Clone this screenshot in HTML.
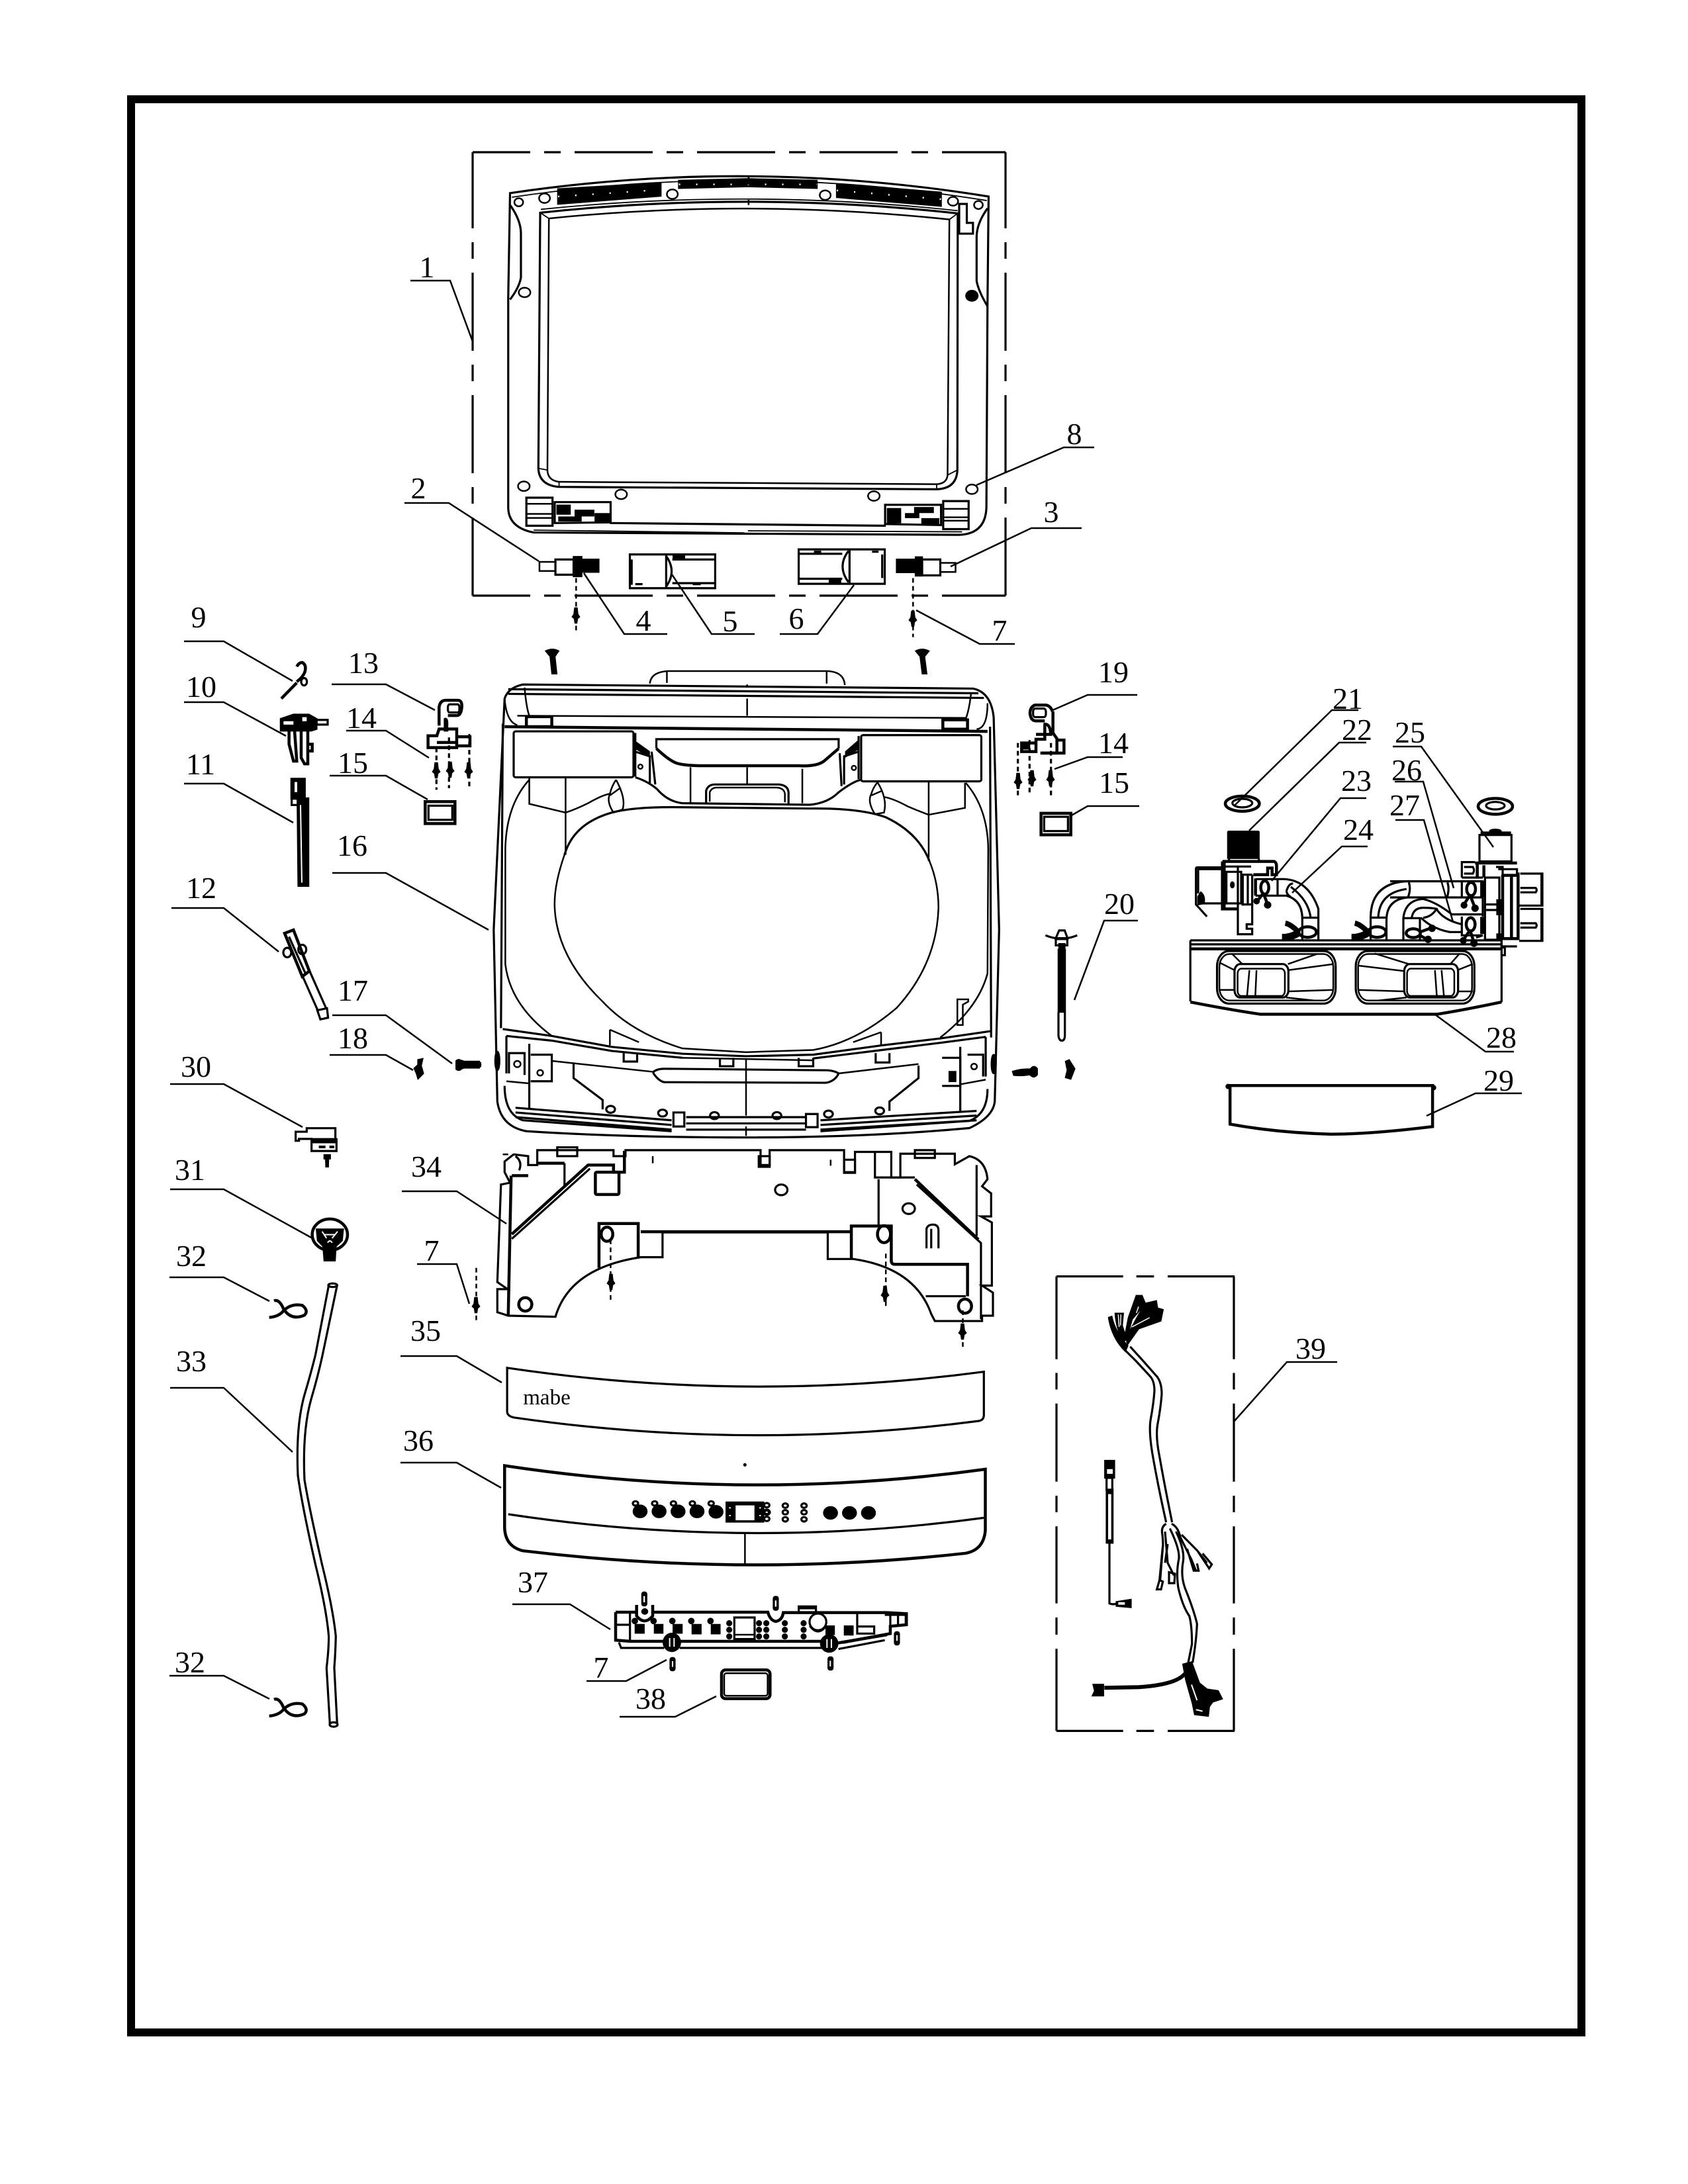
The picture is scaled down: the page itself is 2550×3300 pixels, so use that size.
<!DOCTYPE html>
<html><head><meta charset="utf-8"><style>
html,body{margin:0;padding:0;background:#fff}
svg{display:block}
svg path,svg rect,svg ellipse,svg circle{vector-effect:non-scaling-stroke;fill:none;stroke:#000;stroke-width:2.5}
svg .k{fill:#000}
svg .w{fill:#fff}
svg .b{stroke-width:4.5}
svg .m{stroke-width:3.2}
svg .t{stroke-width:1.8}
svg .d{stroke-dasharray:7 5}
text{font-family:"Liberation Serif","Noto Serif CJK SC",serif;font-size:46px;text-anchor:middle;fill:#000;stroke:none}
</style></head><body>
<svg xmlns="http://www.w3.org/2000/svg" width="2550" height="3300" viewBox="0 0 2550 3300">
<defs>
<path id="s" class="k" d="M-1.5 -11H1.5L2.5 -2L5 2L2 4.5L1 11H-1L-2 4.5L-5 2L-2.5 -2Z"/>
</defs>
<rect x="198" y="150" width="2191" height="2921" style="stroke-width:12"/>

<path class="m" style="stroke-dasharray:118 21 25 21;stroke-dashoffset:31" d="M714 230H1519"/>
<path class="m" style="stroke-dasharray:118 21 25 21;stroke-dashoffset:31" d="M714 900H1519"/>
<path class="m" style="stroke-dasharray:118 21 25 21;stroke-dashoffset:3" d="M714 230V900"/>
<path class="m" style="stroke-dasharray:118 21 25 21;stroke-dashoffset:3" d="M1519 230V900"/>

<g transform="translate(680 200) scale(.5485 .5102)">
<path class="m" d="M165 180Q822 75 1483 190L1480 510L1477 1110Q1475 1190 1400 1192L230 1185Q160 1170 160 1110L160 490Z"/>
<path class="t" d="M170 192Q822 88 1478 202"/>
<path class="m" d="M165 215Q195 260 195 300V430Q190 460 165 495"/>
<path class="m" d="M1480 225Q1450 270 1450 310V440Q1455 470 1480 515"/>
<path class="k" d="M297 168L580 150V188L297 212Z"/>
<path class="k" d="M630 143L820 138L1010 143V165L820 160L630 165Z"/>
<path class="k" d="M1065 153L1352 178V218L1065 192Z"/>
<path style="stroke:#fff;stroke-dasharray:2 24" d="M297 190L580 170M1065 172L1352 198M630 154L1010 154"/>
<ellipse cx="189" cy="207" rx="12" ry="12"/><ellipse cx="260" cy="195" rx="15" ry="14"/><ellipse cx="612" cy="183" rx="15" ry="14"/><ellipse cx="1033" cy="186" rx="15" ry="14"/><ellipse cx="1385" cy="204" rx="14" ry="13"/><ellipse cx="1455" cy="215" rx="12" ry="12"/><ellipse cx="205" cy="474" rx="16" ry="14"/><ellipse class="k" cx="1437" cy="484" rx="16" ry="15"/><ellipse cx="203" cy="1048" rx="16" ry="14"/><ellipse cx="471" cy="1072" rx="16" ry="14"/><ellipse cx="1167" cy="1077" rx="16" ry="14"/><ellipse cx="1437" cy="1057" rx="16" ry="14"/>
<path class="m" d="M248 238Q820 172 1398 240L1397 1000Q1395 1055 1340 1057L300 1050Q245 1045 243 995Z"/>
<path d="M272 255Q820 195 1375 258L1370 1015Q1368 1040 1340 1042L300 1035Q268 1030 268 1000Z"/>
<path class="t" d="M248 238L272 255M1398 240L1375 258M268 1000L243 995M1370 1015L1397 1000M250 228Q820 165 1398 232M300 1035V1050M1340 1042V1057"/>
<path d="M822 130V155M822 200V215"/>
<path class="m" d="M1402 212H1423V268H1440V300H1402Z"/>
<rect class="m" x="210" y="1082" width="72" height="83"/><path d="M210 1100H282M210 1130H282M210 1142H282"/>
<rect class="m" x="1358" y="1092" width="70" height="83"/><path d="M1358 1115H1428M1358 1140H1428M1358 1150H1428"/>
<path class="m" d="M288 1095H442V1155L288 1157Z"/>
<path class="k" d="M295 1105H330V1130H295ZM345 1120H395V1135H345ZM400 1130H440V1155H400ZM300 1140H360V1150H300Z"/>
<path class="m" d="M1198 1103H1352V1163L1198 1160Z"/>
<path class="k" d="M1205 1115H1240V1155H1205ZM1280 1112H1330V1125H1280ZM1300 1145H1345V1158H1300ZM1255 1130H1290V1140H1255Z"/>
<path class="m" d="M440 1157L1200 1165"/>
<path class="t" d="M230 1178L810 1186M820 1180L1410 1183"/>
<rect x="246" y="1272" width="44" height="27"/><rect class="m" x="290" y="1265" width="50" height="45"/><rect class="k" x="340" y="1257" width="22" height="58"/><rect class="k" x="362" y="1265" width="47" height="37"/>
<rect class="k" x="1230" y="1265" width="52" height="38"/><rect class="k" x="1282" y="1258" width="18" height="55"/><rect class="m" x="1300" y="1265" width="50" height="47"/><rect x="1350" y="1275" width="42" height="27"/>
<rect class="m" x="495" y="1250" width="235" height="100"/>
<path class="m" d="M500 1265V1340M595 1250V1350M612 1265H730M612 1335H730"/>
<path class="m" d="M595 1255Q625 1300 595 1345"/>
<rect class="k" x="615" y="1250" width="30" height="12"/>
<path class="m" d="M510 1338H530M668 1338H690"/>
<rect class="m" x="960" y="1235" width="237" height="102"/>
<path class="m" d="M1190 1250V1320M1100 1235V1337M960 1248H1080M960 1322H1080"/>
<path class="m" d="M1097 1240Q1065 1285 1097 1332"/>
<rect class="k" x="1045" y="1325" width="30" height="12"/>
<path class="m" d="M1002 1242H1022M1162 1242H1180"/>
<path class="d" d="M347 1320V1480M1275 1320V1495"/>
</g>
<use href="#s" x="870" y="930"/>
<use href="#s" x="1379" y="935"/>

<g transform="translate(680 980) scale(.5485 .472)">
<path d="M550 112Q553 75 600 72L1040 72Q1085 75 1087 117M597 72V110M1037 72V112"/>
<path class="m" d="M200 115L1440 128Q1490 140 1497 220L1512 900L1500 1450Q1495 1500 1430 1535Q1150 1565 815 1565Q480 1565 210 1545Q140 1530 130 1450L120 900L150 160Q160 125 200 115Z"/>
<path class="m" d="M145 240L140 1215M1487 250L1490 1245"/>
<path class="m" d="M160 130L1455 143M160 145L1470 158"/>
<path d="M150 160Q155 235 185 245M1480 175Q1480 255 1450 258M205 125Q210 190 218 215M1435 140Q1430 195 1420 225"/>
<path d="M185 215L1420 222"/>
<path class="b" d="M150 250L1480 265"/>
<path d="M818 115V125M818 160V215"/>
<rect class="b" x="210" y="218" width="70" height="32"/><rect class="b" x="1357" y="228" width="68" height="30"/>
<rect class="m" x="175" y="265" width="330" height="147" rx="6"/>
<rect class="m" x="1132" y="277" width="331" height="148" rx="6"/>
<path class="m" d="M568 320V290H1070V320"/><path class="b" d="M568 320Q600 355 620 365Q640 375 700 375H960Q1010 378 1030 360L1070 320"/>
<path class="m" d="M705 495V455Q710 435 730 435H905Q930 437 932 460V497"/><path d="M715 490V460Q720 445 735 445H900Q920 447 922 465V492"/>
<path d="M818 380V435M662 380V495M970 385V495"/>
<path class="m" d="M510 270V410M555 330L565 435M1073 335L1078 440M1125 280V418"/>
<path class="k" d="M512 300L548 330V345L512 320Z"/><path class="k" d="M1090 330L1125 295V320L1090 345Z"/>
<path class="m" d="M510 330L550 345V430M1125 330L1085 345V435"/>
<ellipse cx="524" cy="378" rx="6" ry="7"/><ellipse cx="1112" cy="382" rx="6" ry="7"/>
<path class="m" d="M510 412Q545 425 570 450Q600 490 640 495L990 500Q1040 495 1070 460Q1110 425 1132 420"/>
<path class="m" d="M315 660Q340 560 445 525Q510 505 640 508L990 512Q1130 510 1200 540Q1290 590 1320 680"/>
<path d="M315 660Q285 760 288 830Q295 990 420 1130Q500 1230 640 1280L815 1292L1000 1285Q1120 1260 1230 1150Q1340 1010 1345 830Q1345 750 1320 680"/>
<path d="M218 420Q155 500 152 640L152 1010Q165 1140 280 1240"/>
<path d="M1420 430Q1480 510 1482 640L1480 1040Q1455 1150 1350 1245"/>
<path d="M218 415V497L318 525Q345 515 380 495Q420 468 440 465M318 415V660M1418 430V510L1318 532Q1290 520 1260 505Q1220 480 1195 475M1318 425V680"/>
<path d="M457 420Q485 480 475 515L450 525Q430 490 440 465Q445 440 457 420M440 470L470 445"/>
<path d="M1177 428Q1205 480 1195 525L1170 530Q1148 490 1160 465Q1165 445 1177 428M1160 470L1190 455"/>
<path d="M1397 1123H1427V1130L1412 1140V1205H1397Z"/>
<path d="M440 1220V1270M1187 1228V1270M440 1220L520 1260M1187 1228L1110 1260"/>
<path class="m" d="M145 1218L280 1240L445 1275L640 1297L815 1305L1000 1300L1190 1270L1350 1248L1487 1225"/>
<path class="m" d="M155 1240L280 1255L445 1288L640 1310M1000 1312L1190 1285L1350 1262L1475 1243"/>
<path d="M640 1310L1000 1318"/>
<path class="m" d="M155 1240V1360M1475 1243V1370M218 1265V1475M1405 1275V1480"/>
<path class="m" d="M340 1325V1375L420 1445V1475M1290 1335V1375L1210 1450V1480"/>
<path d="M280 1320L560 1355M1070 1360L1290 1330"/>
<path class="m" d="M560 1355Q570 1345 590 1345L1040 1350Q1060 1352 1070 1360Q1060 1385 1035 1390L590 1388Q575 1385 560 1360Z"/>
<path class="m" d="M478 1295V1322H515V1295M743 1310V1337H780V1310M960 1310V1337H1000V1310M1172 1295V1325H1210V1295"/>
<path d="M815 1315V1495M815 1530V1560M155 1385L218 1392M1405 1395L1475 1380"/>
<path class="m" d="M162 1360V1295H205V1365M1425 1300H1468V1370M222 1300H280V1385H222M1355 1310H1405V1400H1355"/>
<ellipse cx="185" cy="1330" rx="9" ry="10"/><ellipse cx="248" cy="1358" rx="8" ry="9"/><ellipse cx="1443" cy="1338" rx="8" ry="9"/>
<path class="k" d="M1375 1355H1392V1385H1375Z"/>
<path class="m" d="M150 1400Q150 1490 200 1510L610 1545M1480 1410Q1480 1490 1430 1512L1020 1545"/>
<path class="m" d="M180 1470L610 1510M180 1485L610 1525M180 1500L610 1540M1020 1510L1450 1480M1020 1525L1450 1495M1020 1540L1450 1510"/>
<path class="m" d="M650 1500H980M650 1520H980M650 1540H980"/>
<rect class="m w" x="615" y="1485" width="30" height="45"/><rect class="m w" x="980" y="1490" width="32" height="42"/>
<ellipse class="m" cx="442" cy="1475" rx="12" ry="11"/><ellipse class="m" cx="585" cy="1487" rx="12" ry="11"/><ellipse class="m" cx="728" cy="1495" rx="12" ry="11"/><ellipse class="m" cx="900" cy="1495" rx="12" ry="11"/><ellipse class="m" cx="1042" cy="1490" rx="12" ry="11"/><ellipse class="m" cx="1183" cy="1480" rx="12" ry="11"/>
<ellipse class="k" cx="130" cy="1320" rx="6" ry="30"/><ellipse class="k" cx="1497" cy="1330" rx="6" ry="30"/>
<path class="k" d="M264 8Q282 -2 298 8L288 25L293 80H281L276 25Z"/>
<path class="k" d="M1283 8Q1300 -2 1318 8L1306 25L1312 80H1301L1295 25Z"/>
<path class="k" d="M18 1322Q28 1315 38 1322H80L84 1332L80 1342H38Q28 1348 18 1340Z"/>
</g>

<g transform="translate(680 1680) scale(.5485 .5357)">
<path class="m" d="M150 140L175 120L215 125V150H240V108H450V125H483V108H855V150H880V108H1085V170H1115V113H1215V185H1240V118H1390V148L1430 125Q1475 135 1480 190L1465 210L1490 230V295H1462L1492 312V490H1465L1495 510V575H1465V590H1335L1325 570Q1280 440 1110 415H1040V340H585V410H525Q330 440 290 578L160 575L130 565V500H158L130 480L140 205L165 200L150 170Z"/>
<path class="b" d="M168 180L160 575M170 180H215M240 145H315M170 345L380 150H450V170H480V110"/>
<path class="m" d="M170 358L385 160M315 145V210"/>
<path class="b" d="M410 440V315H518V412M525 338H1105M1105 415V322H1215V420Q1215 430 1225 430H1425V520"/>
<path class="m" d="M1180 190V320M1170 113V185H1280"/>
<path class="b" d="M1280 190L1455 360"/>
<path class="m" d="M1285 205L1462 370V585M1450 150V350M1310 520H1420"/>
<rect class="b" x="400" y="170" width="65" height="63" rx="4"/>
<ellipse class="m" cx="912" cy="220" rx="17" ry="15"/><ellipse class="m" cx="1263" cy="273" rx="17" ry="15"/>
<path class="m" d="M1312 385V330Q1315 318 1330 318Q1345 318 1345 335V385M1325 385V330"/>
<ellipse class="b" cx="432" cy="345" rx="16" ry="20"/><ellipse class="b" cx="207" cy="543" rx="18" ry="19"/><ellipse class="b" cx="1195" cy="345" rx="18" ry="24"/><ellipse class="b" cx="1418" cy="548" rx="18" ry="20"/>
<path class="m" d="M295 100H350V125H295ZM1280 108H1335V130H1280ZM850 125H880V155H850ZM1085 135H1115V172H1085ZM180 125Q200 140 190 165"/>
<path class="d" d="M442 360V535M1200 400V555M1412 560V672M72 440V595"/>
<path d="M160 120H145M558 125V145M1048 135V152"/>
<path class="m" d="M157 722Q815 822 1470 733V855Q1470 870 1455 872Q815 957 175 862Q157 858 157 845Z"/>
<path class="b" d="M150 998Q815 1101 1474 1008V1180Q1470 1235 1420 1245Q815 1314 200 1238Q150 1225 150 1170Z"/>
<path class="m" d="M160 1135Q815 1236 1470 1145"/>
<path d="M812 1190V1275"/>
</g>
<use href="#s" x="923" y="1937"/><use href="#s" x="1337" y="1955"/><use href="#s" x="1454" y="2012"/><use href="#s" x="719" y="1972"/>
<text x="826" y="2122" style="font-size:33px">mabe</text>

<g transform="translate(880 2180) scale(.3333)">
<ellipse class="k" cx="736" cy="100" rx="4" ry="4"/>
<ellipse class="k" cx="261" cy="311" rx="30" ry="27"/><ellipse class="k" cx="347" cy="311" rx="30" ry="27"/><ellipse class="k" cx="433" cy="311" rx="30" ry="27"/><ellipse class="k" cx="519" cy="311" rx="30" ry="27"/><ellipse class="k" cx="605" cy="313" rx="30" ry="27"/>
<ellipse class="m" cx="240" cy="275" rx="12" ry="10"/><ellipse class="m" cx="327" cy="275" rx="12" ry="10"/><ellipse class="m" cx="412" cy="275" rx="12" ry="10"/><ellipse class="m" cx="498" cy="275" rx="12" ry="10"/><ellipse class="m" cx="583" cy="275" rx="12" ry="10"/>
<rect class="k" x="652" y="270" width="168" height="88"/><rect class="w" x="690" y="280" width="93" height="75"/>
<ellipse cx="668" cy="295" rx="8" ry="7" style="fill:#fff"/><ellipse cx="668" cy="330" rx="8" ry="7" style="fill:#fff"/><ellipse cx="805" cy="295" rx="8" ry="7" style="fill:#fff"/><ellipse cx="805" cy="330" rx="8" ry="7" style="fill:#fff"/>
<ellipse class="m" cx="835" cy="283" rx="12" ry="10"/><ellipse class="b" cx="835" cy="315" rx="12" ry="10"/><ellipse class="m" cx="835" cy="345" rx="12" ry="10"/>
<ellipse class="m" cx="919" cy="285" rx="12" ry="10"/><ellipse class="m" cx="919" cy="315" rx="12" ry="10"/><ellipse class="m" cx="919" cy="347" rx="12" ry="10"/>
<ellipse class="m" cx="1004" cy="285" rx="12" ry="10"/><ellipse class="m" cx="1004" cy="315" rx="12" ry="10"/><ellipse class="m" cx="1004" cy="347" rx="12" ry="10"/>
<ellipse class="k" cx="1124" cy="318" rx="30" ry="27"/><ellipse class="k" cx="1210" cy="318" rx="30" ry="27"/><ellipse class="k" cx="1296" cy="318" rx="30" ry="27"/>
<path class="b" d="M150 768H245M320 768H840Q850 805 875 810Q905 805 910 770H1380L1468 775V825L1395 832V865L1180 905"/>
<path class="b" d="M150 768V895L215 900H1085M1155 908L1380 870"/>
<path class="m" d="M165 905L175 930H370M440 930H1085M1160 935L1370 895"/>
<path class="m" d="M215 770V900M150 825H215M1370 780H1465V825M1395 780V825M1430 780V825"/>
<path class="b" d="M245 735V785Q280 830 318 785V735"/>
<ellipse class="k" cx="282" cy="765" rx="12" ry="11"/>
<ellipse class="k" cx="405" cy="905" rx="38" ry="40"/><ellipse class="k" cx="1118" cy="910" rx="38" ry="38"/>
<path style="stroke:#fff;stroke-width:2" d="M395 885V925M415 885V925M1108 890V930M1128 890V930"/>
<path class="k" d="M240 825H278V862H240ZM327 825H363V862H327ZM412 825H450V862H412ZM498 825H536V865H498ZM585 825H622V865H585ZM1105 832H1140V868H1105ZM1188 832H1225V870H1188Z"/>
<circle class="k" cx="237" cy="808" r="11"/><circle class="k" cx="322" cy="808" r="11"/><circle class="k" cx="407" cy="808" r="11"/><circle class="k" cx="493" cy="808" r="11"/><circle class="k" cx="580" cy="808" r="11"/>
<circle class="k" cx="665" cy="818" r="10"/><circle class="k" cx="665" cy="848" r="10"/><circle class="k" cx="665" cy="878" r="10"/>
<circle class="k" cx="800" cy="818" r="10"/><circle class="k" cx="800" cy="848" r="10"/><circle class="k" cx="800" cy="878" r="10"/>
<circle class="k" cx="833" cy="818" r="10"/><circle class="k" cx="833" cy="848" r="10"/><circle class="k" cx="833" cy="878" r="10"/>
<circle class="k" cx="917" cy="818" r="10"/><circle class="k" cx="917" cy="848" r="10"/><circle class="k" cx="917" cy="878" r="10"/>
<circle class="k" cx="1002" cy="818" r="10"/><circle class="k" cx="1002" cy="848" r="10"/><circle class="k" cx="1002" cy="878" r="10"/>
<rect class="m" x="688" y="792" width="92" height="98"/><path d="M688 870H780"/>
<circle class="m" cx="1067" cy="812" r="38"/><path class="m" d="M1030 830Q1067 880 1105 830"/>
<path class="m" d="M980 765V742H1058V768M985 750H1055"/>
<rect class="m" x="1245" y="833" width="77" height="32"/><path class="m" d="M1245 775V830"/>
<rect class="k" x="270" y="678" width="20" height="60" rx="8"/><rect class="k" x="866" y="698" width="20" height="60" rx="8"/><rect class="k" x="398" y="975" width="20" height="57" rx="8"/><rect class="k" x="1114" y="972" width="20" height="57" rx="8"/><rect class="k" x="1415" y="858" width="20" height="57" rx="8"/>
<rect class="w" x="276" y="695" width="7" height="28" style="stroke:none"/><rect class="w" x="872" y="715" width="7" height="28" style="stroke:none"/><rect class="w" x="405" y="990" width="6" height="26" style="stroke:none"/><rect class="w" x="1120" y="988" width="6" height="26" style="stroke:none"/><rect class="w" x="1422" y="872" width="6" height="26" style="stroke:none"/>
<rect class="b" x="630" y="1030" width="220" height="130" rx="18"/><rect x="642" y="1045" width="197" height="102" rx="10"/>
</g>

<g transform="translate(230 900) scale(.3333 .5102)">
<path class="b" d="M585 305L655 258"/><ellipse class="m" cx="688" cy="255" rx="13" ry="11"/>
<path class="b" d="M655 255Q685 240 692 225Q700 205 680 198Q665 198 655 210"/>
<path class="k" d="M582 365L640 352H710L745 365V395L720 400H582Z"/><path style="fill:#fff;stroke:none" d="M595 372H640V382H595ZM680 360H700V372H680Z"/>
<rect x="745" y="368" width="50" height="14" class="m"/>
<path class="b" d="M620 395V440L640 490H655L645 400M675 400V480L690 498H705V400M705 440H725V460H705"/>
<rect class="k" x="630" y="542" width="62" height="60"/><rect class="m" x="632" y="600" width="45" height="20"/><rect class="w" x="645" y="552" width="12" height="30" style="stroke:none"/>
<path class="k" d="M658 600H708V860H662Z"/><path style="stroke:#fff;stroke-width:2" d="M672 620L678 850"/>
<ellipse class="m" cx="612" cy="1057" rx="18" ry="14"/><ellipse class="m" cx="680" cy="1048" rx="18" ry="14"/>
<path class="b" d="M600 1000L640 990L712 1112L680 1128Z"/>
<path class="m" d="M620 1010L695 1120"/>
<path class="m" d="M680 1125L750 1228M712 1110L788 1222"/>
<path class="m" d="M748 1228L792 1222L797 1250L762 1255Z"/>
<path class="b" d="M1300 385V330Q1305 310 1330 310H1385Q1405 310 1403 330Q1400 355 1380 355H1340"/>
<rect class="m" x="1340" y="322" width="52" height="24" rx="8"/>
<path class="b" d="M1250 415H1290L1300 395H1380V450H1250Z"/>
<path class="k" d="M1325 365Q1340 360 1338 385V400H1325Z"/>
<path class="b" d="M1380 418H1440V445H1380M1290 435H1380"/>
<path class="d m" d="M1288 450V575M1345 420V570M1437 410V570"/>
<rect class="b" x="1237" y="610" width="135" height="65"/><rect class="m" x="1252" y="622" width="108" height="42"/>
<path class="k" d="M1378 1378Q1392 1370 1405 1382L1487 1384V1394L1405 1398Q1392 1410 1378 1402Z"/>
<path class="k" d="M1205 1375L1225 1372L1218 1392L1228 1415L1205 1430L1198 1415L1188 1400L1205 1390Z"/>
</g>
<use href="#s" x="659" y="1164"/><use href="#s" x="680" y="1163"/><use href="#s" x="708" y="1164"/>

<g transform="translate(230 1560) scale(.3333 .676)">
<path class="m" d="M650 242V222H700V214H830V240H835V265H722V238H665V242Z"/>
<rect class="k" x="725" y="238" width="110" height="8"/><path d="M755 256H825" style="stroke-dasharray:10 6;stroke-width:4"/>
<path class="k" d="M780 274H806V282H798L797 300H788L787 282H780Z"/>
<ellipse class="b" cx="805" cy="452" rx="80" ry="35"/>
<path class="k" d="M745 440H865L860 465L832 478L828 510H780L775 478L750 465Z"/>
<path style="stroke:#fff;stroke-width:2" d="M770 445L790 460M840 445L815 460M780 452H830M795 470Q805 462 815 470"/>
<path class="m" d="M800 565L740 720Q720 760 690 810Q650 880 660 990Q680 1060 740 1190Q790 1290 800 1350Q800 1380 790 1420L805 1545"/>
<path class="m" d="M838 565L770 725Q750 770 720 820Q680 890 690 1000Q710 1060 770 1190Q820 1290 832 1350Q830 1390 825 1420L838 1545"/>
<ellipse class="m" cx="818" cy="565" rx="20" ry="4"/><ellipse class="m" cx="822" cy="1547" rx="18" ry="5"/>
<path class="b" d="M530 637Q575 635 595 622Q630 605 680 610Q710 622 690 632Q630 645 595 618Q575 595 552 600"/>
<path class="b" d="M530 1528Q575 1526 595 1513Q630 1496 680 1501Q710 1513 690 1523Q630 1536 595 1509Q575 1486 552 1491"/>
</g>

<g transform="translate(1500 960) scale(.3333 .4337)">
<path class="b" d="M270 265Q260 245 240 243H190Q168 250 168 272Q172 298 195 298H235"/>
<rect class="m" x="182" y="255" width="58" height="30" rx="10"/>
<path class="b" d="M272 265V340L290 360V410H220"/>
<path class="b" d="M230 310Q260 305 262 345H235V310ZM195 345H235V362H195V410M130 375H195V405H130ZM290 365H322V410H215"/>
<path class="k" d="M135 375H165V395H135Z"/>
<path class="d m" d="M113 375V565M166 365V555M263 375V560"/>
<rect class="b" x="218" y="620" width="135" height="75"/><rect class="m" x="232" y="632" width="108" height="50"/>
<path class="m" d="M238 1045Q270 1055 290 1055M382 1045Q350 1055 330 1055"/>
<path class="m" d="M285 1055L300 1028H325L338 1055Z"/><rect class="m" x="285" y="1058" width="52" height="22"/>
<path class="k" d="M300 1075H325V1100H300Z"/>
<path class="k" d="M297 1095H327V1312H297Z"/>
<path class="m" d="M297 1312V1395Q300 1412 312 1412Q325 1412 326 1395V1312"/>
<path class="k" d="M90 1520Q130 1510 170 1512Q185 1495 200 1510V1530Q185 1545 168 1530Q130 1535 95 1532Z"/>
<path class="k" d="M330 1485L345 1480L370 1510L352 1545L330 1540L338 1515Z"/>
</g>
<use href="#s" x="1538" y="1180"/><use href="#s" x="1559" y="1176"/><use href="#s" x="1587" y="1176"/>

<g transform="translate(1750 1000) scale(.357 .459)">
<ellipse class="b" cx="355" cy="467" rx="72" ry="25"/><ellipse class="m" cx="355" cy="465" rx="42" ry="14"/>
<path class="m" d="M135 917H1452V1120"/>
<path class="m" d="M135 917V1118"/>
<path class="m" d="M135 930H1452"/><path class="b" d="M135 945H1452"/>
<path class="b" d="M135 1120Q300 1145 430 1160H1180Q1300 1145 1452 1120"/>
<rect class="m" x="248" y="952" width="502" height="173" rx="50"/><rect x="258" y="962" width="482" height="153" rx="42"/>
<rect class="m" x="322" y="995" width="228" height="110" rx="24"/><rect x="335" y="1010" width="200" height="90" rx="16"/>
<path d="M310 960L355 995M548 995L670 962M550 1015L740 995M260 1080H325M550 1085L740 1080M258 990L322 1015M540 1105L660 1115"/>
<path d="M385 1015L375 1100M415 1015L410 1100"/>
<rect class="m" x="835" y="952" width="502" height="173" rx="50"/><rect x="845" y="962" width="482" height="153" rx="42"/>
<rect class="m" x="1040" y="995" width="228" height="110" rx="24"/><rect x="1052" y="1010" width="200" height="90" rx="16"/>
<path d="M915 960L1060 995M1275 960L1235 995M845 1000L1040 1018M1265 1015L1330 995M845 1080L1040 1085M1265 1085H1330M1050 1105L930 1115"/>
<path d="M1170 1015L1178 1100M1198 1015L1208 1100"/>
<path class="m" d="M1062 722Q900 725 898 840V915M1062 775Q965 780 965 850V915M1050 748Q935 760 930 842M898 842H965"/>
<path class="b" d="M303 1395H1160V1530Q900 1555 730 1555Q500 1550 303 1522Z"/>
<ellipse class="k" cx="295" cy="1398" rx="8" ry="6"/><ellipse class="k" cx="1165" cy="1402" rx="7" ry="6"/>
</g>

<g transform="translate(1790 1240) scale(.3333)">
<rect class="k" x="195" y="52" width="140" height="118"/>
<path class="m" d="M195 50H335M200 170V183M335 170V183"/>
<path class="b" d="M170 185H405Q415 190 415 205V245H395V215H375V245H310M170 185V400H240"/>
<path class="m" d="M180 190V398M180 208H300M305 245H262V385M188 232H255V375H188Z"/>
<path class="m" d="M240 205V515H305V490H280V470H305V380"/>
<path class="m" d="M262 245V380H305V245M285 245V380"/>
<ellipse class="k" cx="215" cy="291" rx="7" ry="12"/>
<path class="m" d="M165 212H55Q50 212 50 220V380L100 435M165 220H60V330M60 375H165"/>
<path class="k" d="M72 325Q92 340 86 375L60 380L60 345Z"/>
<path class="b" d="M320 262V340"/>
<path class="m" d="M320 265H420V340H320M420 265H450Q560 270 605 400V540M420 340H460Q530 360 532 440V540M532 440H605M570 440Q560 360 480 300M460 320Q470 285 490 285M460 320Q465 340 480 345"/>
<ellipse class="b" cx="362" cy="303" rx="18" ry="30"/>
<path class="b" d="M355 330L325 368M360 340L375 380"/><circle class="k" cx="325" cy="365" r="11"/><circle class="k" cx="375" cy="382" r="13"/>
<ellipse class="b" cx="556" cy="505" rx="40" ry="24"/>
<path style="stroke-width:8" d="M515 505Q480 470 455 465"/><path style="stroke-width:11" d="M512 510Q480 530 440 530"/>
</g>
<g transform="translate(1895 1240) scale(.3333)">
<ellipse class="b" cx="556" cy="505" rx="40" ry="24"/>
<path style="stroke-width:8" d="M515 505Q480 470 455 465"/><path style="stroke-width:11" d="M512 510Q480 530 440 530"/>
</g>

<g transform="translate(2100 1200) scale(.3333)">
<ellipse class="b" cx="477" cy="55" rx="78" ry="36"/><ellipse class="m" cx="477" cy="52" rx="42" ry="17"/>
<rect class="m" x="405" y="185" width="145" height="120"/>
<path class="b" d="M410 176H548M385 312H575"/>
<ellipse class="k" cx="477" cy="168" rx="25" ry="8"/>
<path class="m" d="M325 378V308H385M325 378H420M335 330H375Q385 345 375 360H335"/>
<path class="b" d="M395 312V378M425 322V378"/>
<path class="m" d="M430 378H495V500H430ZM430 525H495V660H430ZM430 500V525H505V500"/>
<path class="k" d="M412 395H428V460H412ZM412 560H424V630H412Z"/>
<path class="b" d="M510 365V660M550 365V660M580 355V660M510 368H585M510 655H585"/>
<path class="m" d="M480 330H510V380M490 340H575V365"/>
<path class="m" d="M590 360H690V505H585M590 520H690V665H585"/>
<path class="b" d="M688 365V505M688 525V665"/>
<path class="m" d="M590 425H660Q668 435 660 445H590M590 585H660Q668 595 660 605H590"/>
<path class="k" d="M485 480H500V545H485ZM485 635H500V660H485Z"/>
<path class="m" d="M0 395H420M85 400Q95 430 82 465M0 468H420M260 400Q270 430 258 468M325 395V468M420 395V555"/>
<path class="m" d="M60 660V560Q70 480 150 475Q210 490 280 545H420M325 555V640H420M140 560Q190 610 270 625H325M98 560Q105 515 150 515Q190 515 210 520Q190 555 150 560M210 520Q240 570 325 590M60 562H135V660"/>
<path class="m" d="M390 650L420 640"/>
<ellipse class="b" cx="367" cy="430" rx="20" ry="30"/><path class="b" d="M360 460L335 500M365 465L385 515"/><circle class="k" cx="335" cy="503" r="12"/><circle class="k" cx="385" cy="517" r="13"/>
<ellipse class="b" cx="365" cy="590" rx="20" ry="30"/><path class="b" d="M360 620L332 660M365 625L380 672"/><circle class="k" cx="332" cy="663" r="12"/><circle class="k" cx="380" cy="676" r="13"/>
<ellipse class="b" cx="105" cy="630" rx="32" ry="20"/><path class="b" d="M135 625L190 605M135 640L170 660"/><circle class="k" cx="190" cy="608" r="13"/><circle class="k" cx="172" cy="658" r="13"/>
<path class="m" d="M505 665V690H575M505 695H520V730H505"/>
</g>

<g transform="translate(1560 1880) scale(.3333 .472)">
<path class="m" d="M108 103V368M108 412V465M108 510V760M108 805V858M108 903V1150M108 1195V1250M108 1295V1558M912 103V368M912 412V465M912 510V760M912 805V858M912 903V1150M912 1195V1250M912 1295V1558M108 103H410M470 103H550M612 103H915M108 1558H410M470 1558H550M612 1558H915"/>
<path class="m" d="M420 340L470 375L535 425Q552 440 552 470Q548 510 535 560Q525 600 545 680Q570 780 605 890"/>
<path class="m" d="M442 328L490 365L565 425Q585 445 585 480Q580 525 568 570Q555 610 575 680Q600 780 632 890"/>
<path class="k" d="M345 235L358 232Q372 280 430 325L420 342Q360 300 345 235Z"/>
<path class="k" d="M375 222H410L405 260L425 305L410 310Q380 270 375 222Z"/>
<path class="k" d="M470 165H495L510 190L450 240L425 305L420 290L435 235Z"/>
<path class="k" d="M510 190L560 182L565 205L590 210L580 245L480 270L430 320L425 300L470 240Z"/>
<path style="stroke:#fff;stroke-width:1.5" d="M450 265L530 235M480 200L470 220M388 225L392 265M400 225L398 260"/>
<rect class="k" x="328" y="693" width="42" height="55"/><rect class="w" x="337" y="720" width="26" height="15" style="stroke:none"/>
<rect class="m" x="335" y="748" width="26" height="38"/>
<rect class="k" x="335" y="786" width="28" height="170"/><rect class="w" x="342" y="800" width="14" height="145" style="stroke:none"/>
<path class="m" d="M348 956V1150Q365 1155 382 1150"/>
<path class="k" d="M380 1145L445 1138V1162L380 1158Z"/><rect class="w" x="388" y="1146" width="30" height="8" style="stroke:none"/>
<path class="m" d="M605 895Q580 905 588 930Q592 960 590 970L578 1075M630 895Q660 905 670 940M600 920L612 1020L640 1060"/>
<path class="m" d="M590 965L575 1075M612 960L600 1020"/>
<path class="m" d="M575 1075L590 1080L582 1105H563ZM618 1050L645 1055L642 1085H618Z"/>
<path class="m" d="M660 925L720 1010L740 1045M675 930L745 980L790 1020"/>
<path class="m" d="M700 975L730 1045H752L745 1022M750 985L800 1038L812 1025L770 990"/>
<path class="m" d="M622 910Q670 980 662 1010Q650 1050 660 1100Q680 1160 710 1190Q722 1220 722 1280L705 1340"/>
<path class="m" d="M650 920Q690 980 682 1015Q670 1060 690 1100Q730 1170 745 1215Q742 1270 725 1340"/>
<path class="k" d="M682 1345L720 1338L755 1405L790 1425L840 1430L858 1455L815 1465L800 1480L795 1510L735 1505L725 1470L695 1395Z"/>
<path style="stroke:#fff;stroke-width:2" d="M720 1410L745 1460M740 1490L770 1495"/>
<path style="stroke-width:6" d="M690 1375Q650 1410 480 1418L325 1420"/>
<path class="k" d="M275 1410H320V1445H272L282 1430Z"/>
</g>

<path d="M620 424H680L714 516M611 760H678L814 848M1634 798H1558L1436 856M1008 958H943L882 866M1140 958H1075L1015 868M1178 958H1235L1290 884M1533 973H1480L1384 922M1653 676H1607L1475 733M278 969H338L442 1029M278 1061H338L432 1112M278 1184H338L443 1243M259 1372H338L421 1438M501 1034H583L657 1073M523 1104H583L648 1145M498 1172H583L646 1208M502 1319H583L738 1405M502 1534H583L683 1607M498 1594H583L624 1617M1718 1050H1643L1588 1074M1696 1144H1643L1593 1162M1721 1218H1643L1617 1233M1719 1391H1668L1623 1511M2052 1073H2012L1864 1218M2064 1122H2023L1887 1255M2064 1206H2025L1921 1331M2066 1279H2027L1952 1349M2104 1128H2147L2256 1280M2107 1181H2150L2196 1342M2108 1239H2151L2195 1393M2287 1589H2244L2168 1533M2299 1652H2229L2155 1686M257 1638H338L457 1703M257 1797H338L472 1871M256 1930H338L407 1966M257 2097H338L442 2194M256 2532H338L407 2567M607 1800H690L765 1849M630 1910H690L709 1970M605 2049H690L758 2089M605 2210H690L757 2248M774 2424H861L922 2462M886 2540H946L1007 2508M936 2594H1020L1082 2563M2020 2058H1944L1864 2148"/>

<text x="645" y="419">1</text><text x="632" y="753">2</text><text x="1588" y="789">3</text><text x="972" y="953">4</text><text x="1103" y="954">5</text><text x="1203" y="950">6</text><text x="1510" y="968">7</text><text x="1623" y="671">8</text>
<text x="300" y="948">9</text><text x="304" y="1053">10</text><text x="303" y="1170">11</text><text x="304" y="1357">12</text><text x="549" y="1017">13</text><text x="546" y="1100">14</text><text x="533" y="1168">15</text><text x="532" y="1293">16</text><text x="533" y="1512">17</text><text x="533" y="1584">18</text>
<text x="1682" y="1031">19</text><text x="1682" y="1138">14</text><text x="1683" y="1198">15</text><text x="1691" y="1381">20</text>
<text x="2036" y="1071">21</text><text x="2050" y="1118">22</text><text x="2049" y="1195">23</text><text x="2052" y="1269">24</text><text x="2130" y="1122">25</text><text x="2125" y="1179">26</text><text x="2122" y="1232">27</text><text x="2268" y="1583">28</text><text x="2264" y="1648">29</text>
<text x="296" y="1627">30</text><text x="287" y="1783">31</text><text x="289" y="1913">32</text><text x="289" y="2072">33</text><text x="287" y="2527">32</text><text x="644" y="1778">34</text><text x="652" y="1905">7</text><text x="643" y="2026">35</text><text x="632" y="2192">36</text><text x="805" y="2406">37</text><text x="908" y="2535">7</text><text x="983" y="2582">38</text><text x="1980" y="2053">39</text>
</svg>
</body></html>
